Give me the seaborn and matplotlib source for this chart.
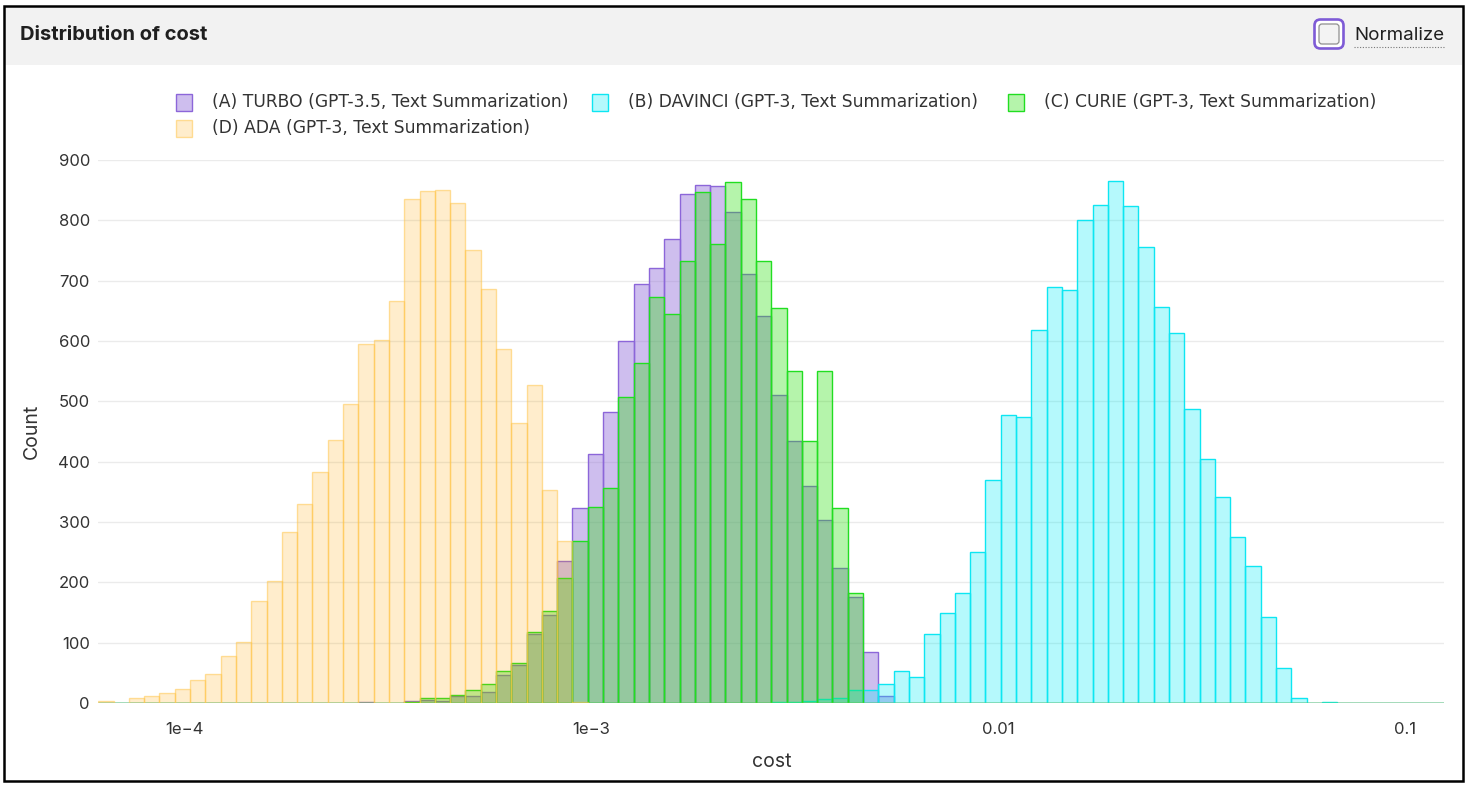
import numpy as np
import pandas as pd
import seaborn as sns
import matplotlib
matplotlib.use("Agg")
import matplotlib.pyplot as plt
from matplotlib.patches import Rectangle, FancyBboxPatch
from matplotlib.lines import Line2D
from matplotlib.transforms import IdentityTransform
from matplotlib.ticker import NullLocator

# ---------------- data ----------------
series_names = [
    "(A) TURBO (GPT-3.5, Text Summarization)",
    "(B) DAVINCI (GPT-3, Text Summarization)",
    "(C) CURIE (GPT-3, Text Summarization)",
    "(D) ADA (GPT-3, Text Summarization)",
]

# histogram bins are uniform in log10(cost)
log_start = -4.213
log_bin_width = 0.03762
n_bins = 88

turbo_first_bin = 17
turbo_counts = [1, 0, 0, 3, 5, 4, 11, 11, 19, 46, 63, 115, 146, 235, 324, 412, 482,
                600, 694, 721, 769, 844, 859, 857, 813, 711, 642, 510, 434, 360, 303,
                224, 176, 84, 11]

davinci_first_bin = 44
davinci_counts = [1, 2, 3, 7, 9, 21, 21, 31, 53, 43, 115, 150, 182, 250, 370, 477, 474,
                  618, 690, 684, 801, 825, 865, 824, 755, 657, 613, 488, 404, 341, 275,
                  227, 142, 58, 8, 0, 1]

curie_first_bin = 20
curie_counts = [2, 9, 8, 14, 21, 31, 53, 66, 117, 153, 208, 269, 325, 357, 508, 563, 673,
                644, 732, 847, 761, 864, 836, 732, 655, 550, 434, 550, 323, 183]

ada_first_bin = 0
ada_counts = [3, 0, 8, 11, 17, 24, 38, 48, 78, 101, 169, 203, 283, 330, 383, 436, 495,
              595, 602, 666, 835, 849, 851, 828, 750, 687, 587, 464, 527, 353, 269, 2]

y_ticks = [0, 100, 200, 300, 400, 500, 600, 700, 800, 900]
x_ticks = [1e-4, 1e-3, 1e-2, 1e-1]
x_tick_labels = ["1e\u22124", "1e\u22123", "0.01", "0.1"]

# ---------------- styles ----------------
face_colors = [
    (0.576, 0.439, 0.859, 0.45),   # purple
    (0.00, 0.93, 0.96, 0.29),      # cyan
    (0.13, 0.87, 0.00, 0.33),      # green
    (1.00, 0.65, 0.00, 0.20),      # orange
]
edge_colors = [
    (0.55, 0.40, 0.85, 1.0),
    (0.05, 0.90, 0.95, 1.0),
    (0.13, 0.87, 0.13, 1.0),
    (1.00, 0.78, 0.30, 0.55),
]

# ---------------- build frame ----------------
edges_log = [log_start + log_bin_width * i for i in range(n_bins + 1)]
rows = []
for name, first, counts in zip(series_names,
                               [turbo_first_bin, davinci_first_bin, curie_first_bin, ada_first_bin],
                               [turbo_counts, davinci_counts, curie_counts, ada_counts]):
    for j, c in enumerate(counts):
        i = first + j
        center = 10 ** (log_start + log_bin_width * (i + 0.5))
        rows.append({"model": name, "cost": center, "count": c})
df = pd.DataFrame(rows)

# ---------------- figure ----------------
W, H = 1468, 788
sns.set_theme(style="white")
plt.rcParams["font.family"] = ["Inter", "DejaVu Sans"]
fig = plt.figure(figsize=(W / 100, H / 100), dpi=100)
fig.patch.set_facecolor("white")
ID = IdentityTransform()

# header band and frame
fig.add_artist(Rectangle((5, H - 65), 1457, 58, transform=ID, facecolor="#f2f2f2",
                         edgecolor="none", zorder=0))
fig.add_artist(Rectangle((3.5, H - 780.5), 1459, 775, transform=ID, fill=False,
                         edgecolor="black", linewidth=1.8, zorder=5))
fig.text(20 / W, 1 - 35 / H, "Distribution of cost", fontsize=14.5, fontweight="bold",
         va="center", ha="left", color="#1f1f1f")

# checkbox + Normalize
fig.add_artist(FancyBboxPatch((1314.5, H - 48.5), 29, 29, boxstyle="round,pad=0,rounding_size=6",
                              transform=ID, facecolor="white", edgecolor="#7e5bd6",
                              linewidth=1.9, zorder=3))
fig.add_artist(FancyBboxPatch((1319, H - 44), 20, 20, boxstyle="round,pad=0,rounding_size=3",
                              transform=ID, facecolor="#f3f3f3", edgecolor="#8f8f8f",
                              linewidth=0.9, zorder=4))
fig.text(1354 / W, 1 - 35 / H, "Normalize", fontsize=13.5, va="center", ha="left",
         color="#1f1f1f")
fig.add_artist(Line2D([1354, 1444], [H - 47, H - 47], transform=ID, color="#777777",
                      linewidth=0.8, linestyle=(0, (1, 1.5))))

# axes
ax_left, ax_right, ax_top, ax_bottom = 98.3, 1444.3, 160, 703
ax = fig.add_axes([ax_left / W, 1 - ax_bottom / H, (ax_right - ax_left) / W,
                   (ax_bottom - ax_top) / H])
ax.set_facecolor("white")

for k, name in enumerate(series_names):
    sub = df[df["model"] == name]
    sns.histplot(data=sub, x="cost", weights="count", bins=edges_log, log_scale=True,
                 element="bars", fill=True, stat="count", ax=ax,
                 facecolor=face_colors[k], edgecolor=edge_colors[k], linewidth=1.0)

ax.set_xlim(10 ** edges_log[0], 10 ** edges_log[-1])
ax.set_ylim(0, 900)
ax.set_xticks(x_ticks)
ax.set_xticklabels(x_tick_labels)
ax.xaxis.set_minor_locator(NullLocator())
ax.set_yticks(y_ticks)
ax.set_yticklabels([str(v) for v in y_ticks])
ax.yaxis.grid(True, color="#ebebeb", linewidth=1.0)
ax.xaxis.grid(False)
ax.set_axisbelow(True)
for s in ax.spines.values():
    s.set_visible(False)
ax.tick_params(axis="x", length=0, pad=14, labelsize=12, labelcolor="#333333")
ax.tick_params(axis="y", length=0, pad=6, labelsize=12, labelcolor="#333333")

ax.set_xlabel("cost", fontsize=14, color="#333333")
ax.set_ylabel("Count", fontsize=14, color="#333333")
ax.xaxis.set_label_coords(0.5, (ax_bottom - 762) / (ax_bottom - ax_top))
ax.xaxis.label.set_va("center")
ax.yaxis.set_label_coords((32 - ax_left) / (ax_right - ax_left), 0.5)
ax.yaxis.label.set_va("center")
ax.yaxis.label.set_ha("center")

# legend (manual layout matching the reference)
legend_pos = [(176, 102), (592, 102), (1008, 102), (176, 128)]
for k, name in enumerate(series_names):
    x, y = legend_pos[k]
    fig.add_artist(Rectangle((x, H - y - 8.5), 16, 17, transform=ID,
                             facecolor=face_colors[k], edgecolor=edge_colors[k],
                             linewidth=1.0))
    fig.text((x + 36) / W, 1 - y / H, name, fontsize=12.3, va="center", ha="left",
             color="#333333", family="DejaVu Sans")

fig.savefig("out.png", dpi=100)
